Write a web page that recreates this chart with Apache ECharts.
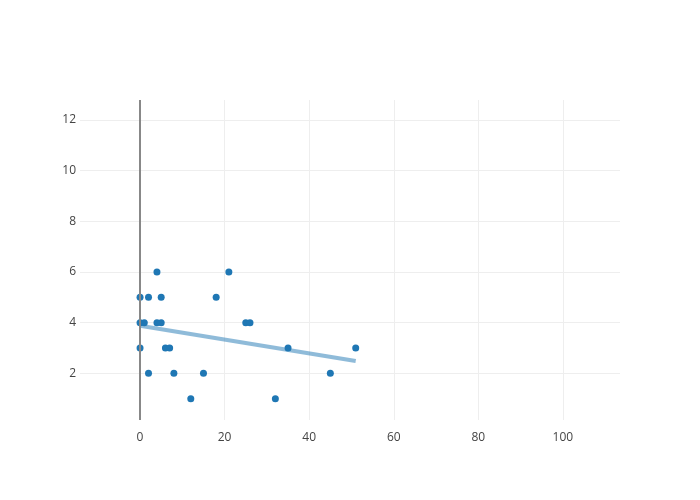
<!DOCTYPE html>
<html><head><meta charset="utf-8">
<script src="https://cdn.jsdelivr.net/npm/echarts@6/dist/echarts.min.js"></script>
<style>html,body{margin:0;padding:0;background:#fff}#c{width:700px;height:500px}</style>
</head><body><div id="c"></div>
<script>
var pointX = [4,21,0,2,5,18,0,1,4,5,25,26,0,6,7,2,8,15,12,35,32,45,51];
var pointY = [6,6,5,5,5,5,4,4,4,4,4,4,3,3,3,2,2,2,1,3,1,2,3];
var fitX = [0,51];
var fitY = [3.88,2.49];
var xTicks = [0,20,40,60,80,100];
var yTicks = [2,4,6,8,10,12];

var pts = pointX.map(function(x,i){return [x,pointY[i]];});
var fit = fitX.map(function(x,i){return [x,fitY[i]];});
var font = '"Open Sans", sans-serif';
var chart = echarts.init(document.getElementById('c'));
chart.setOption({
  animation:false,
  grid:{left:80,right:80,top:100,bottom:80,containLabel:false},
  xAxis:{type:'value',min:-14.2,max:113.5,
    axisLine:{show:false},axisTick:{show:false,customValues:xTicks},
    axisLabel:{customValues:xTicks,color:'#444',fontSize:12,fontFamily:font,margin:12},
    splitLine:{show:true,lineStyle:{color:'#eee',width:1}}},
  yAxis:{type:'value',min:0.16,max:12.78,
    axisLine:{show:false},axisTick:{show:false,customValues:yTicks},
    axisLabel:{customValues:yTicks,color:'#444',fontSize:12,fontFamily:font,margin:4},
    splitLine:{show:true,lineStyle:{color:'#eee',width:1}}},
  series:[
    {type:'line',data:fit,showSymbol:false,symbol:'none',
     lineStyle:{color:'rgba(31,119,180,0.5)',width:4},z:2,
     markLine:{silent:true,symbol:'none',label:{show:false},
       lineStyle:{color:'#888',width:2,type:'solid'},data:[{xAxis:0}]}},
    {type:'scatter',data:pts,symbolSize:7,itemStyle:{color:'#1f77b4',opacity:1},z:3}
  ]
});
</script></body></html>
